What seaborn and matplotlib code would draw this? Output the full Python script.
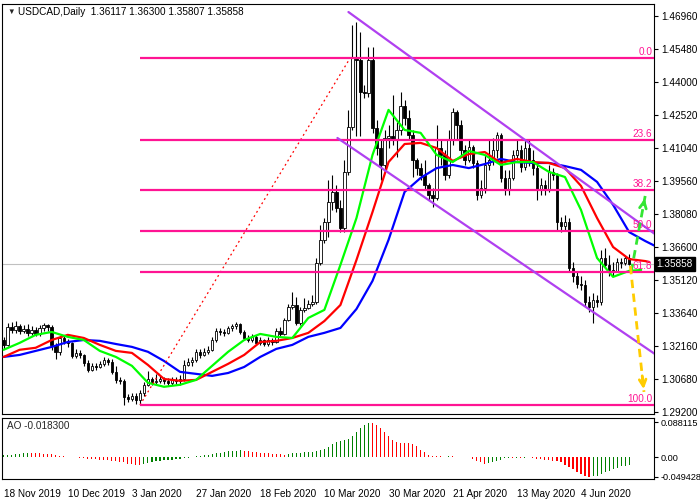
import numpy as np
import pandas as pd
import matplotlib
matplotlib.use('Agg')
import matplotlib.pyplot as plt
import seaborn as sns

sns.set_theme(style='white')
plt.rcParams['font.family'] = ['Liberation Sans', 'DejaVu Sans']

# ---------------- data (USDCAD daily, 18 Nov 2019 .. 19 Jun 2020) ----------------
first_open = 1.3243
close = [1.3221, 1.3302, 1.3288, 1.3306, 1.3284, 1.3293, 1.3275, 1.3288, 1.3270, 1.3297,
         1.3311, 1.3302, 1.3221, 1.3190, 1.3252, 1.3239, 1.3230, 1.3172, 1.3185, 1.3176,
         1.3140, 1.3109, 1.3127, 1.3122, 1.3136, 1.3154, 1.3145, 1.3100, 1.3064, 1.3060,
         1.2988, 1.2979, 1.2992, 1.2974, 1.3006, 1.3042, 1.3069, 1.3055, 1.3060, 1.3069,
         1.3060, 1.3051, 1.3064, 1.3060, 1.3069, 1.3131, 1.3145, 1.3154, 1.3190, 1.3176,
         1.3190, 1.3199, 1.3243, 1.3284, 1.3279, 1.3275, 1.3297, 1.3306, 1.3315, 1.3279,
         1.3252, 1.3243, 1.3257, 1.3230, 1.3243, 1.3225, 1.3243, 1.3234, 1.3284, 1.3270,
         1.3333, 1.3392, 1.3401, 1.3320, 1.3378, 1.3387, 1.3405, 1.3414, 1.3589, 1.3692,
         1.3772, 1.3862, 1.3907, 1.3835, 1.3745, 1.3997, 1.4198, 1.4508, 1.4499, 1.4355,
         1.4351, 1.4499, 1.4194, 1.4104, 1.4028, 1.4149, 1.4158, 1.4140, 1.4185, 1.4293,
         1.4239, 1.4163, 1.4050, 1.4014, 1.3983, 1.3938, 1.3893, 1.3880, 1.4104, 1.4073,
         1.3983, 1.4140, 1.4266, 1.4208, 1.4095, 1.4050, 1.4109, 1.4037, 1.3893, 1.3925,
         1.4028, 1.4050, 1.4095, 1.4163, 1.3970, 1.3916, 1.3970, 1.4073, 1.4095, 1.4019,
         1.4104, 1.4050, 1.4014, 1.3916, 1.3938, 1.3916, 1.3997, 1.3983, 1.3772, 1.3754,
         1.3772, 1.3566, 1.3530, 1.3494, 1.3490, 1.3414, 1.3392, 1.3423, 1.3414, 1.3611,
         1.3580, 1.3557, 1.3553, 1.3593, 1.3589, 1.3612, 1.3586]
high = [1.3257, 1.3320, 1.3324, 1.3329, 1.3315, 1.3311, 1.3315, 1.3306, 1.3302, 1.3311,
        1.3320, 1.3315, 1.3311, 1.3230, 1.3261, 1.3261, 1.3248, 1.3234, 1.3203, 1.3199,
        1.3181, 1.3154, 1.3140, 1.3140, 1.3149, 1.3167, 1.3163, 1.3158, 1.3127, 1.3078,
        1.3069, 1.3001, 1.3006, 1.3006, 1.3019, 1.3055, 1.3105, 1.3078, 1.3091, 1.3082,
        1.3078, 1.3073, 1.3078, 1.3078, 1.3087, 1.3154, 1.3163, 1.3167, 1.3203, 1.3203,
        1.3208, 1.3217, 1.3257, 1.3297, 1.3297, 1.3293, 1.3306, 1.3315, 1.3324, 1.3320,
        1.3288, 1.3266, 1.3270, 1.3266, 1.3257, 1.3248, 1.3257, 1.3252, 1.3297, 1.3302,
        1.3342, 1.3405, 1.3459, 1.3436, 1.3392, 1.3432, 1.3423, 1.3445, 1.3611, 1.3760,
        1.3790, 1.3961, 1.3983, 1.3938, 1.3871, 1.4050, 1.4275, 1.4656, 1.4669, 1.4624,
        1.4387, 1.4557, 1.4557, 1.4230, 1.4140, 1.4185, 1.4208, 1.4342, 1.4221, 1.4355,
        1.4320, 1.4275, 1.4185, 1.4059, 1.4037, 1.4050, 1.3947, 1.3925, 1.4208, 1.4140,
        1.4095, 1.4185, 1.4284, 1.4275, 1.4230, 1.4118, 1.4140, 1.4118, 1.4050, 1.3961,
        1.4073, 1.4140, 1.4149, 1.4176, 1.4172, 1.4006, 1.4006, 1.4095, 1.4140, 1.4118,
        1.4140, 1.4140, 1.4095, 1.4028, 1.3970, 1.3961, 1.4028, 1.4014, 1.3990, 1.3795,
        1.3804, 1.3790, 1.3593, 1.3548, 1.3530, 1.3512, 1.3441, 1.3454, 1.3445, 1.3647,
        1.3656, 1.3625, 1.3593, 1.3611, 1.3611, 1.3620, 1.3630]
low = [1.3203, 1.3217, 1.3275, 1.3275, 1.3270, 1.3275, 1.3261, 1.3266, 1.3261, 1.3261,
       1.3284, 1.3284, 1.3199, 1.3158, 1.3176, 1.3225, 1.3212, 1.3163, 1.3163, 1.3163,
       1.3127, 1.3100, 1.3105, 1.3109, 1.3118, 1.3127, 1.3131, 1.3091, 1.3051, 1.3046,
       1.2952, 1.2965, 1.2970, 1.2956, 1.2951, 1.2992, 1.3037, 1.3042, 1.3046, 1.3051,
       1.3046, 1.3042, 1.3042, 1.3046, 1.3042, 1.3060, 1.3127, 1.3127, 1.3145, 1.3163,
       1.3172, 1.3181, 1.3194, 1.3234, 1.3266, 1.3261, 1.3270, 1.3284, 1.3293, 1.3270,
       1.3243, 1.3234, 1.3234, 1.3221, 1.3221, 1.3217, 1.3217, 1.3221, 1.3230, 1.3261,
       1.3266, 1.3329, 1.3383, 1.3311, 1.3311, 1.3369, 1.3383, 1.3396, 1.3405, 1.3580,
       1.3678, 1.3705, 1.3826, 1.3817, 1.3727, 1.3727, 1.3983, 1.4185, 1.4158, 1.4158,
       1.4328, 1.4333, 1.4172, 1.4073, 1.3961, 1.4006, 1.4104, 1.4118, 1.4064, 1.4163,
       1.4208, 1.4140, 1.3974, 1.3983, 1.3961, 1.3916, 1.3871, 1.3840, 1.3871, 1.4028,
       1.3961, 1.3970, 1.4118, 1.4140, 1.4073, 1.4028, 1.4041, 1.4014, 1.3871, 1.3880,
       1.3902, 1.4006, 1.4028, 1.4059, 1.3952, 1.3893, 1.3893, 1.3961, 1.4050, 1.3997,
       1.4006, 1.4023, 1.3983, 1.3871, 1.3893, 1.3893, 1.3907, 1.3961, 1.3736, 1.3727,
       1.3736, 1.3548, 1.3503, 1.3476, 1.3468, 1.3396, 1.3369, 1.3320, 1.3392, 1.3401,
       1.3566, 1.3530, 1.3530, 1.3548, 1.3566, 1.3580, 1.3581]

# Alligator lines (read every 4 bars, shifted lines run past the last bar)
lips_bars = list(range(0, 157, 4)) + [159]
lips = [1.3199, 1.3230, 1.3266, 1.3279, 1.3257, 1.3243, 1.3194, 1.3167, 1.3127, 1.3051,
        1.3033, 1.3042, 1.3064, 1.3127, 1.3190, 1.3243, 1.3270, 1.3257, 1.3252, 1.3342,
        1.3378, 1.3580, 1.3790, 1.4073, 1.4275, 1.4185, 1.4172, 1.4073, 1.4041, 1.4091,
        1.4073, 1.4028, 1.4041, 1.4041, 1.3997, 1.3974, 1.3826, 1.3611, 1.3526, 1.3553,
        1.3557]
teeth_bars = list(range(0, 161, 4)) + [161]
teeth = [1.3167, 1.3199, 1.3208, 1.3243, 1.3266, 1.3252, 1.3221, 1.3194, 1.3185, 1.3131,
         1.3068, 1.3060, 1.3064, 1.3100, 1.3136, 1.3176, 1.3234, 1.3239, 1.3252, 1.3275,
         1.3328, 1.3400, 1.3602, 1.3817, 1.4041, 1.4122, 1.4127, 1.4104, 1.4046, 1.4077,
         1.4086, 1.4037, 1.4055, 1.4041, 1.4037, 1.4014, 1.3934, 1.3790, 1.3660, 1.3606,
         1.3597, 1.3593]
jaw_bars = list(range(0, 161, 4)) + [163]
jaw = [1.3167, 1.3176, 1.3194, 1.3212, 1.3234, 1.3243, 1.3239, 1.3225, 1.3212, 1.3190,
       1.3149, 1.3100, 1.3091, 1.3082, 1.3095, 1.3122, 1.3167, 1.3203, 1.3221, 1.3257,
       1.3275, 1.3297, 1.3382, 1.3508, 1.3692, 1.3907, 1.3970, 1.4014, 1.4028, 1.4014,
       1.4032, 1.4055, 1.4041, 1.4037, 1.4037, 1.4023, 1.4006, 1.3952, 1.3849, 1.3727,
       1.3687, 1.3660]

# Awesome Oscillator
ao = [0.0050, 0.0058, 0.0066, 0.0075, 0.0091, 0.0100, 0.0116, 0.0108, 0.0100, 0.0098,
      0.0091, 0.0089, 0.0083, 0.0058, 0.0042, 0.0025, 0.0008, 0.0002, -0.0004, -0.0019,
      -0.0028, -0.0037, -0.0047, -0.0049, -0.0056, -0.0058, -0.0065, -0.0084, -0.0093, -0.0112,
      -0.0130, -0.0158, -0.0177, -0.0186, -0.0195, -0.0177, -0.0149, -0.0112, -0.0093, -0.0084,
      -0.0074, -0.0065, -0.0056, -0.0047, -0.0037, -0.0028, -0.0019, 0.0003, 0.0025, 0.0033,
      0.0050, 0.0066, 0.0083, 0.0100, 0.0116, 0.0133, 0.0149, 0.0158, 0.0166, 0.0174,
      0.0166, 0.0158, 0.0141, 0.0125, 0.0116, 0.0108, 0.0100, 0.0091, 0.0083, 0.0075,
      0.0071, 0.0083, 0.0100, 0.0108, 0.0116, 0.0125, 0.0133, 0.0141, 0.0149, 0.0174,
      0.0216, 0.0266, 0.0332, 0.0382, 0.0407, 0.0432, 0.0465, 0.0540, 0.0647, 0.0730,
      0.0813, 0.0881, 0.0863, 0.0813, 0.0730, 0.0647, 0.0540, 0.0432, 0.0390, 0.0374,
      0.0365, 0.0357, 0.0332, 0.0274, 0.0183, 0.0125, 0.0058, 0.0042, 0.0033, 0.0025,
      0.0020, 0.0026, 0.0024, 0.0008, 0.0002, -0.0003, -0.0002, -0.0047, -0.0084, -0.0130,
      -0.0158, -0.0149, -0.0121, -0.0084, -0.0056, -0.0028, -0.0019, -0.0021, -0.0019, -0.0028,
      -0.0020, -0.0004, -0.0019, -0.0037, -0.0047, -0.0065, -0.0074, -0.0093, -0.0102, -0.0130,
      -0.0186, -0.0251, -0.0307, -0.0372, -0.0428, -0.0474, -0.0494, -0.0484, -0.0465, -0.0428,
      -0.0381, -0.0335, -0.0298, -0.0260, -0.0232, -0.0214, -0.0183]

# Fibonacci retracement (drawn from the January low)
fib_labels = ['0.0', '23.6', '38.2', '50.0', '61.8', '100.0']
fib_prices = [1.4510, 1.4142, 1.3914, 1.3731, 1.3547, 1.2951]
fib_start_bar = 34
fib_trend_bars = [34, 86.5]
fib_trend_prices = [1.2951, 1.4510]

# descending channel
chan_upper_bars, chan_upper_prices = [86, 162.75], [1.4714, 1.3714]
chan_lower_bars, chan_lower_prices = [83.25, 163.5], [1.4149, 1.3167]

# forecast arrows
up_arrow_bars, up_arrow_prices = [156.5, 160.0], [1.3548, 1.3889]
down_arrow_bars, down_arrow_prices = [156.3, 159.7], [1.3575, 1.3010]

last_price = 1.35858
price_ticks = [1.46960, 1.45480, 1.44000, 1.42520, 1.41040, 1.39560, 1.38080,
               1.36600, 1.35120, 1.33640, 1.32160, 1.30680, 1.29200]
ao_ticks = [0.088115, 0.0, -0.049428]
ao_tick_labels = ['0.088115', '0.00', '-0.049428']
date_bars = [0, 16, 32, 48, 64, 80, 96, 112, 128, 144]
date_labels = ['18 Nov 2019', '10 Dec 2019', '3 Jan 2020', '27 Jan 2020', '18 Feb 2020',
               '10 Mar 2020', '30 Mar 2020', '21 Apr 2020', '13 May 2020', '4 Jun 2020']

# ---------------- figure ----------------
PINK = '#FF1493'
PURPLE = '#B040F0'
FS = 7.2

fig = plt.figure(figsize=(7, 5), dpi=100)
ax = fig.add_axes([2/700, 86/500, 652/700, 410/500])
ax2 = fig.add_axes([2/700, 21/500, 652/700, 61/500])

bars = np.arange(len(close))
opens = np.array([first_open] + close[:-1])
closes = np.array(close)
up = closes >= opens

ax.axhline(last_price, color='#C0C0C0', lw=0.8, zorder=1)

# candles
ax.vlines(bars, low, high, colors='black', linewidth=0.8, zorder=3)
body_h = np.maximum(np.abs(closes - opens), 0.00008)
ax.bar(bars, body_h, bottom=np.minimum(opens, closes), width=0.62,
       color=np.where(up, 'white', 'black'), edgecolor='black', linewidth=0.6, zorder=4)

# alligator
lines = pd.concat([
    pd.DataFrame({'bar': jaw_bars, 'price': jaw, 'line': 'jaw'}),
    pd.DataFrame({'bar': teeth_bars, 'price': teeth, 'line': 'teeth'}),
    pd.DataFrame({'bar': lips_bars, 'price': lips, 'line': 'lips'}),
])
sns.lineplot(data=lines, x='bar', y='price', hue='line', estimator=None, legend=False,
             palette={'jaw': '#0000FF', 'teeth': '#FF0000', 'lips': '#00FF00'},
             linewidth=1.6, ax=ax, zorder=5)

# fibonacci
ax.plot(fib_trend_bars, fib_trend_prices, color='red', lw=0.9, ls=(0, (1.5, 2.5)), zorder=6)
ax.hlines(fib_prices, fib_start_bar, 162.2, colors=PINK, lw=1.6, zorder=6)
for lab, p in zip(fib_labels, fib_prices):
    ax.text(161.8, p + 0.0004, lab, color=PINK, fontsize=FS, ha='right', va='bottom', zorder=7)

# channel
ax.plot(chan_upper_bars, chan_upper_prices, color=PURPLE, lw=1.6, zorder=6)
ax.plot(chan_lower_bars, chan_lower_prices, color=PURPLE, lw=1.6, zorder=6)

# arrows
for bx, py, col in [(up_arrow_bars, up_arrow_prices, '#33E633'),
                    (down_arrow_bars, down_arrow_prices, '#FFCC00')]:
    ax.plot(bx, py, color=col, lw=2, ls=(0, (3, 2)), zorder=8)
    tail = (bx[1] - 0.15 * (bx[1] - bx[0]), py[1] - 0.15 * (py[1] - py[0]))
    ax.annotate('', xy=(bx[1], py[1]), xytext=tail,
                arrowprops=dict(arrowstyle='->', color=col, lw=2, mutation_scale=12), zorder=8)

ax.set_xlim(-0.4, 162.2)
ax.set_ylim(1.2911, 1.4750)
ax.set_xticks([])
ax.yaxis.tick_right()
ax.set_yticks(price_ticks)
ax.set_yticklabels([f'{v:.5f}' for v in price_ticks])
ax.tick_params(axis='y', direction='out', length=3, width=0.8, pad=2, labelsize=FS, colors='black')
ax.set_xlabel('')
ax.set_ylabel('')
ax.text(1.004, last_price, f'{last_price:.5f}', transform=ax.get_yaxis_transform(),
        ha='left', va='center', color='white', fontsize=FS,
        bbox=dict(boxstyle='square,pad=0.2', fc='black', ec='black'))
ax.text(0.009, 0.980, '\u25BC', transform=ax.transAxes, fontsize=5.5, ha='left', va='center')
ax.text(0.0245, 0.980, 'USDCAD,Daily  1.36117 1.36300 1.35807 1.35858',
        transform=ax.transAxes, fontsize=FS, ha='left', va='center', color='black')

# AO panel
ao_arr = np.array(ao)
ao_col = ['#008000' if i == 0 or ao_arr[i] > ao_arr[i - 1] else '#FF0000' for i in range(len(ao_arr))]
ax2.bar(bars, ao_arr, width=0.27, color=ao_col, linewidth=0)
ax2.set_xlim(-0.4, 162.2)
ax2.set_ylim(-0.0549, 0.0995)
ax2.yaxis.tick_right()
ax2.set_yticks(ao_ticks)
ax2.set_yticklabels(ao_tick_labels)
ax2.set_xticks(date_bars)
ax2.set_xticklabels(date_labels, ha='left')
ax2.tick_params(axis='x', direction='out', length=3, width=0.8, pad=4, labelsize=FS, colors='black')
ax2.tick_params(axis='y', direction='out', length=3, width=0.8, pad=1.5, labelsize=6.6, colors='black')
ax2.text(0.008, 0.87, 'AO -0.018300', transform=ax2.transAxes, fontsize=FS, ha='left', va='center')

for a in (ax, ax2):
    for s in a.spines.values():
        s.set_color('black')
        s.set_linewidth(0.8)
        s.set_visible(True)

fig.savefig('out.png', dpi=100)
